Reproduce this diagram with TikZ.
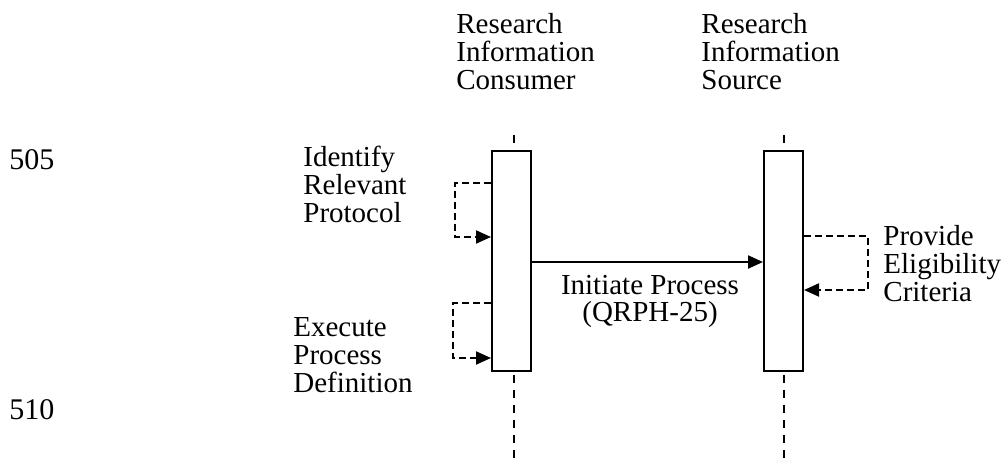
\documentclass[tikz,border=0pt]{standalone}
\usepackage{fontspec}
\setmainfont{Liberation Serif}
\usetikzlibrary{arrows.meta,calc}

\begin{document}
\begin{tikzpicture}[x=0.5pt,y=-0.5pt,
  % multi-line labels: the base anchor sits on the last line
  lbl/.style={font=\fontsize{14.5}{14}\selectfont, inner sep=0pt, align=left, anchor=base west},
  num/.style={font=\fontsize{15}{15}\selectfont, inner sep=0pt, anchor=base west},
  act/.style={draw, line width=1pt, fill=white, minimum width=19.5pt, minimum height=110pt, inner sep=0pt},
  life/.style={line width=1pt, dash pattern=on 4pt off 3.5pt},
  selfmsg/.style={line width=1pt, dash pattern=on 3.5pt off 2pt, -{Triangle[length=7.5pt,width=6.5pt]}},
  callmsg/.style={line width=1.1pt, -{Triangle[length=7.5pt,width=6.5pt]}}
]
\useasboundingbox (0,0) rectangle (1001,464);

% line numbers
\node[num] (n505) at (9,170) {505};
\node[num] (n510) at (9,420) {510};

% participants
\node[lbl] (pc) at (456,90) {Research\\Information\\Consumer};
\node[lbl] (ps) at (701,90) {Research\\Information\\Source};

% lifelines
\coordinate (ctop) at (514,135);
\coordinate (cbot) at (514,464);
\coordinate (stop) at (783.5,135);
\coordinate (sbot) at (783.5,464);
\draw[life] (ctop) -- (cbot);
\draw[life] (stop) -- (sbot);

% activation bars
\node[act] (cbar) at (511.5,261) {};
\node[act] (sbar) at (783.5,261) {};

% self messages on the consumer
\draw[selfmsg] ($(cbar.north west)+(0,33)$) -- ++(-36,0) |- ($(cbar.north west)+(0,87)$);
\draw[selfmsg] ($(cbar.north west)+(0,153)$) -- ++(-38,0) |- ($(cbar.north west)+(0,208)$);

% self message on the source
\draw[selfmsg] ($(sbar.north east)+(0,86)$) -- ++(64,0) |- ($(sbar.north east)+(0,140)$);

% call from consumer to source
\draw[callmsg] ($(cbar.north east)+(0,112)$) -- ($(sbar.north west)+(0,112)$);

% labels
\node[lbl] (lid) at (303,223) {Identify\\Relevant\\Protocol};
\node[lbl] (lex) at (293,393) {Execute\\Process\\Definition};
\node[lbl, font=\fontsize{14.5}{13.5}\selectfont, align=center, anchor=base] (lip) at (650,322) {Initiate Process\\(QRPH-25)};
\node[lbl] (lpe) at (883,302) {Provide\\Eligibility\\Criteria};
\end{tikzpicture}
\end{document}
